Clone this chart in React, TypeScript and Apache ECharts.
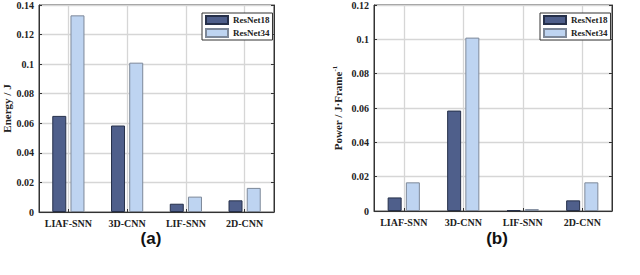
import React, { useEffect, useRef } from "react";
import * as echarts from "echarts";

const categories = ["LIAF-SNN", "3D-CNN", "LIF-SNN", "2D-CNN"];
const seriesNames = ["ResNet18", "ResNet34"];
const energyResNet18 = [0.065, 0.0585, 0.0056, 0.0079];
const energyResNet34 = [0.133, 0.101, 0.0104, 0.0163];
const powerResNet18 = [0.0079, 0.0585, 0.0005, 0.0062];
const powerResNet34 = [0.0167, 0.101, 0.0011, 0.0167];
const energyTicks = { min: 0, max: 0.14, interval: 0.02 };
const powerTicks = { min: 0, max: 0.12, interval: 0.02 };
const panelLabels = ["(a)", "(b)"];

const SERIF = "'Liberation Serif', 'Times New Roman', serif";
const DARK = "#4f5f8b";
const DARK_BORDER = "#26304a";
const LIGHT = "#bed4f1";
const LIGHT_BORDER = "#7d8899";
const AXIS = "#333";
const GRID = "#d6d6d6";

export default function App() {
  const ref = useRef<HTMLDivElement>(null);
  useEffect(() => {
    if (!ref.current) return;
    const chart = echarts.init(ref.current, undefined, { renderer: "svg" });
    const grids = [
      { left: 36, top: 5, width: 238, height: 207 },
      { left: 374, top: 5, width: 238, height: 206 },
    ];
    const labelStyle = { fontFamily: SERIF, fontWeight: "bold" as const, fontSize: 10, color: "#222" };
    const catAxis = (gridIndex: number) => ({
      type: "category",
      gridIndex,
      data: categories,
      position: "bottom",
      axisLine: { show: true, lineStyle: { color: AXIS, width: 1 } },
      axisTick: { show: true, inside: true, alignWithLabel: true, length: 3, lineStyle: { color: AXIS } },
      axisLabel: { ...labelStyle, margin: 6, interval: 0 },
      splitLine: { show: false },
    });
    // half-step value axis used only to draw vertical gridlines at category centres
    const gridAxis = (gridIndex: number) => ({
      type: "value",
      gridIndex,
      min: 0,
      max: categories.length * 2,
      interval: 1,
      position: "top",
      axisLine: { show: false },
      axisTick: { show: false },
      axisLabel: { show: false },
      splitLine: { show: true, lineStyle: { color: ["rgba(0,0,0,0)", GRID], width: 1.3 } },
    });
    const valAxis = (gridIndex: number, t: any, name: any, nameGap: number) => ({
      type: "value",
      gridIndex,
      min: t.min,
      max: t.max,
      interval: t.interval,
      position: "left",
      name,
      nameLocation: "middle",
      nameRotate: 90,
      nameGap,
      nameTextStyle: {
        fontFamily: SERIF,
        fontWeight: "bold",
        fontSize: 11,
        color: "#222",
        rich: {
          sup: { fontFamily: SERIF, fontWeight: "bold", fontSize: 7, color: "#222", verticalAlign: "top", padding: [0, 0, 6, 0] },
        },
      },
      axisLine: { show: true, lineStyle: { color: AXIS } },
      axisTick: { show: true, inside: true, length: 3, lineStyle: { color: AXIS } },
      axisLabel: { ...labelStyle, margin: 5, formatter: (v: number) => String(parseFloat(v.toFixed(2))) },
      splitLine: { show: true, lineStyle: { color: GRID, width: 1.3 } },
    });
    const rightAxis = (gridIndex: number, t: any) => ({
      type: "value",
      gridIndex,
      min: t.min,
      max: t.max,
      interval: t.interval,
      position: "right",
      axisLine: { show: true, lineStyle: { color: AXIS } },
      axisTick: { show: true, inside: true, length: 3, lineStyle: { color: AXIS } },
      axisLabel: { show: false },
      splitLine: { show: false },
    });
    const bar = (name: string, data: number[], xi: number, yi: number, dark: boolean) => ({
      type: "bar",
      name,
      data,
      xAxisIndex: xi,
      yAxisIndex: yi,
      barWidth: 14,
      barGap: "30%",
      z: 3,
      itemStyle: {
        color: dark ? DARK : LIGHT,
        borderColor: dark ? DARK_BORDER : LIGHT_BORDER,
        borderWidth: 1,
      },
    });
    const legend = (left: number) => ({
      data: seriesNames,
      orient: "vertical",
      left,
      top: 13,
      backgroundColor: "#fff",
      borderColor: AXIS,
      borderWidth: 1,
      padding: [2, 3, 2, 3],
      itemGap: 3,
      itemWidth: 22,
      itemHeight: 8,
      icon: "rect",
      textStyle: { fontFamily: SERIF, fontWeight: "bold", fontSize: 9, color: "#222", lineHeight: 10 },
    });
    chart.setOption({
      animation: false,
      backgroundColor: "#fff",
      grid: grids.map((g) => ({ ...g, show: true, borderColor: AXIS, borderWidth: 1, backgroundColor: "transparent" })),
      xAxis: [catAxis(0), gridAxis(0), catAxis(1), gridAxis(1)],
      yAxis: [
        valAxis(0, energyTicks, "Energy / J", 27),
        rightAxis(0, energyTicks),
        valAxis(1, powerTicks, "Power / J·Frame{sup|-1}", 30),
        rightAxis(1, powerTicks),
      ],
      legend: [legend(202), legend(540)],
      series: [
        bar(seriesNames[0], energyResNet18, 0, 0, true),
        bar(seriesNames[1], energyResNet34, 0, 0, false),
        bar(seriesNames[0], powerResNet18, 2, 2, true),
        bar(seriesNames[1], powerResNet34, 2, 2, false),
      ],
      graphic: [
        {
          type: "text",
          x: 151,
          y: 238,
          style: { text: panelLabels[0], fontFamily: "'Liberation Sans', Arial, sans-serif", fontWeight: "bold", fontSize: 17, fill: "#111", align: "center", verticalAlign: "middle" },
        },
        {
          type: "text",
          x: 497,
          y: 238,
          style: { text: panelLabels[1], fontFamily: "'Liberation Sans', Arial, sans-serif", fontWeight: "bold", fontSize: 17, fill: "#111", align: "center", verticalAlign: "middle" },
        },
      ],
    });
    return () => chart.dispose();
  }, []);
  return (
    <div
      ref={ref}
      style={{ position: "fixed", left: 0, top: 0, width: 640, height: 275, background: "#fff" }}
    />
  );
}
